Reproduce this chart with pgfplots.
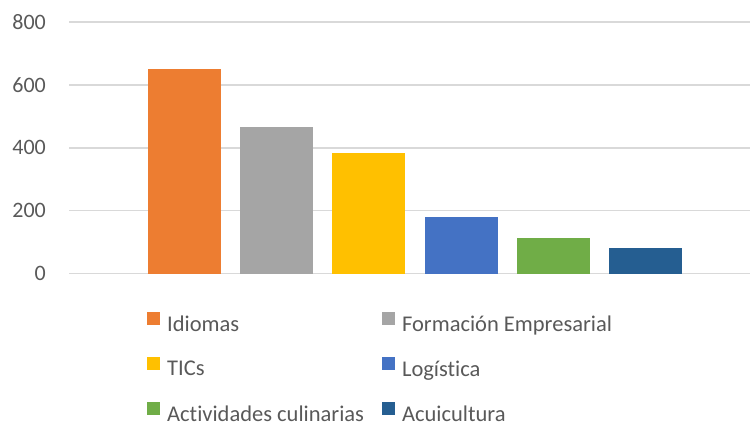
\documentclass[border=0pt]{standalone}
\usepackage{pgfplots}
\pgfplotsset{compat=1.18}
\usepackage{fontspec}
\setmainfont{Carlito}[Ligatures=NoCommon]
\definecolor{cIdi}{HTML}{ED7D31}
\definecolor{cFor}{HTML}{A5A5A5}
\definecolor{cTic}{HTML}{FFC000}
\definecolor{cLog}{HTML}{4472C4}
\definecolor{cAct}{HTML}{70AD47}
\definecolor{cAcu}{HTML}{255E91}
\definecolor{txt}{HTML}{595959}
\definecolor{grid}{HTML}{D9D9D9}
\begin{document}
\begin{tikzpicture}
\useasboundingbox (0,0) rectangle (750bp,426bp);
\begin{axis}[
  at={(69bp,152.3bp)}, anchor=south west,
  scale only axis, width=681bp, height=251.7bp,
  xmin=-0.253, xmax=7.133, ymin=0, ymax=800,
  axis line style={draw=none},
  xtick=\empty,
  ytick={0,200,400,600,800},
  major tick length=0pt,
  ymajorgrids,
  major grid style={draw=grid, line width=1.4bp},
  /pgf/number format/assume math mode=true,
  yticklabel style={font=\fontsize{22bp}{26bp}\selectfont, text=txt, inner sep=0pt, xshift=-23bp},
  ybar, bar width=73bp,
  legend columns=2,
  legend cell align=left,
  legend style={at={(0.1145,-0.150)}, anchor=north west, draw=none, fill=none,
    font=\fontsize{22.5bp}{27bp}\selectfont, text=txt, inner sep=0pt,
    row sep=22bp,
    /tikz/every odd column/.append style={column sep=5bp},
    /tikz/every even column/.append style={column sep=16bp}},
  legend image code/.code={\fill[#1] (0bp,-0.5bp) rectangle (13bp,12.5bp);},
]
\addplot[fill=cIdi, draw=none, bar shift=0pt] coordinates {(1,650)};
\addplot[fill=cFor, draw=none, bar shift=0pt] coordinates {(2,466)};
\addplot[fill=cTic, draw=none, bar shift=0pt] coordinates {(3,383)};
\addplot[fill=cLog, draw=none, bar shift=0pt] coordinates {(4,180)};
\addplot[fill=cAct, draw=none, bar shift=0pt] coordinates {(5,113)};
\addplot[fill=cAcu, draw=none, bar shift=0pt] coordinates {(6,82)};
\legend{Idiomas, Formación Empresarial, TICs, Logística, Actividades culinarias, Acuicultura}
\end{axis}
\end{tikzpicture}
\end{document}
